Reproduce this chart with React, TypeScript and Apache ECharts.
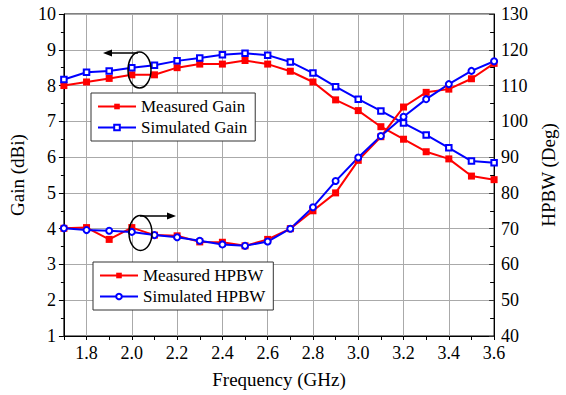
import React, { useEffect, useRef } from "react";
import * as echarts from "echarts";

const frequencies = ["1.7", "1.8", "1.9", "2.0", "2.1", "2.2", "2.3", "2.4", "2.5", "2.6", "2.7", "2.8", "2.9", "3.0", "3.1", "3.2", "3.3", "3.4", "3.5", "3.6"];
const measuredGain = [8.0, 8.1, 8.2, 8.3, 8.3, 8.5, 8.6, 8.6, 8.7, 8.6, 8.4, 8.1, 7.6, 7.3, 6.85, 6.5, 6.15, 5.95, 5.47, 5.37];
const simulatedGain = [8.17, 8.37, 8.41, 8.5, 8.57, 8.69, 8.77, 8.86, 8.9, 8.85, 8.66, 8.35, 7.97, 7.62, 7.29, 6.95, 6.62, 6.26, 5.89, 5.84];
const measuredHPBW = [70.1, 70.3, 67.0, 70.3, 68.2, 68.0, 66.3, 66.2, 65.2, 67.0, 70.0, 75.0, 80.0, 89.1, 95.7, 104.0, 108.1, 109.0, 111.9, 116.2];
const simulatedHPBW = [70.1, 69.6, 69.4, 69.1, 68.2, 67.6, 66.6, 65.6, 65.2, 66.4, 70.0, 76.0, 83.3, 89.9, 95.9, 101.3, 106.2, 110.4, 114.1, 116.8];

const FONT = "'Liberation Serif', 'Times New Roman', serif";
const RED = "#ff0000";
const BLUE = "#0000ff";

export default function App() {
  const ref = useRef<HTMLDivElement>(null);
  useEffect(() => {
    if (!ref.current) return;
    const chart = echarts.init(ref.current, null, { renderer: "svg" });
    const major = (i: number) => i % 2 === 1;
    const legendBase = {
      orient: "vertical" as const,
      selectedMode: false,
      backgroundColor: "#fff",
      borderColor: "#333",
      borderWidth: 1,
      padding: [5, 8, 5, 6],
      itemGap: 4,
      itemWidth: 38,
      itemHeight: 7,
      textStyle: { fontFamily: FONT, fontSize: 17, color: "#000" },
    };
    chart.setOption({
      animation: false,
      backgroundColor: "#fff",
      textStyle: { fontFamily: FONT },
      grid: { left: 62, right: 67, top: 14, bottom: 59, show: true, borderColor: "#000", borderWidth: 1, backgroundColor: "transparent" },
      xAxis: {
        type: "category",
        data: frequencies,
        boundaryGap: false,
        name: "Frequency (GHz)",
        nameLocation: "middle",
        nameGap: 34,
        nameTextStyle: { fontFamily: FONT, fontSize: 19, color: "#000" },
        axisLine: { lineStyle: { color: "#000", width: 1 } },
        axisTick: { show: true, interval: 0, length: 4, inside: false, lineStyle: { color: "#000" } },
        axisLabel: { interval: major, margin: 8, fontFamily: FONT, fontSize: 18, color: "#000" },
        splitLine: { show: true, interval: major, lineStyle: { color: "#aaa", width: 1 } },
      },
      yAxis: [
        {
          type: "value",
          min: 1,
          max: 10,
          interval: 1,
          name: "Gain (dBi)",
          nameLocation: "middle",
          nameGap: 27,
          nameRotate: 90,
          nameTextStyle: { fontFamily: FONT, fontSize: 19, color: "#000" },
          axisLine: { show: true, lineStyle: { color: "#000", width: 1 } },
          axisTick: { show: true, length: 5, inside: false, lineStyle: { color: "#000" } },
          minorTick: { show: true, splitNumber: 2, length: 3, lineStyle: { color: "#000" } },
          axisLabel: { margin: 8, fontFamily: FONT, fontSize: 18, color: "#000" },
          splitLine: { show: true, lineStyle: { color: "#aaa", width: 1 } },
        },
        {
          type: "value",
          min: 40,
          max: 130,
          interval: 10,
          position: "right",
          name: "HPBW (Deg)",
          nameLocation: "middle",
          nameGap: 36,
          nameRotate: 90,
          nameTextStyle: { fontFamily: FONT, fontSize: 19, color: "#000" },
          axisLine: { show: true, lineStyle: { color: "#000", width: 1 } },
          axisTick: { show: true, length: 5, inside: true, lineStyle: { color: "#333" } },
          minorTick: { show: true, splitNumber: 2, length: 4, lineStyle: { color: "#000" } },
          axisLabel: { margin: 7, fontFamily: FONT, fontSize: 18, color: "#000" },
          splitLine: { show: false },
        },
      ],
      legend: [
        { ...legendBase, left: 91, top: 93, data: ["Measured Gain", "Simulated Gain"] },
        { ...legendBase, left: 93, top: 262, data: ["Measured HPBW", "Simulated HPBW"] },
      ],
      series: [
        {
          name: "Measured Gain", type: "line", yAxisIndex: 0, data: measuredGain,
          symbol: "rect", symbolSize: 7, color: RED,
          lineStyle: { color: RED, width: 2 }, itemStyle: { color: RED },
        },
        {
          name: "Simulated Gain", type: "line", yAxisIndex: 0, data: simulatedGain,
          symbol: "emptyRect", symbolSize: 5.5, color: BLUE,
          lineStyle: { color: BLUE, width: 2 }, itemStyle: { color: BLUE, borderColor: BLUE, borderWidth: 1.3 },
        },
        {
          name: "Measured HPBW", type: "line", yAxisIndex: 1, data: measuredHPBW,
          symbol: "rect", symbolSize: 7, color: RED,
          lineStyle: { color: RED, width: 2 }, itemStyle: { color: RED },
        },
        {
          name: "Simulated HPBW", type: "line", yAxisIndex: 1, data: simulatedHPBW,
          symbol: "emptyCircle", symbolSize: 6, color: BLUE,
          lineStyle: { color: BLUE, width: 2 }, itemStyle: { color: BLUE, borderColor: BLUE, borderWidth: 1.3 },
        },
      ],
      graphic: [
        { type: "ellipse", shape: { cx: 139.5, cy: 70, rx: 11.5, ry: 18 }, style: { fill: "none", stroke: "#000", lineWidth: 1.5 }, z: 100 },
        { type: "line", shape: { x1: 138, y1: 53, x2: 110, y2: 53 }, style: { stroke: "#000", lineWidth: 1.5 }, z: 100 },
        { type: "polygon", shape: { points: [[103, 53], [112, 49.5], [112, 56.5]] }, style: { fill: "#000" }, z: 100 },
        { type: "ellipse", shape: { cx: 140.5, cy: 233, rx: 11.5, ry: 17.5 }, style: { fill: "none", stroke: "#000", lineWidth: 1.5 }, z: 100 },
        { type: "line", shape: { x1: 140, y1: 216, x2: 168, y2: 216 }, style: { stroke: "#000", lineWidth: 1.5 }, z: 100 },
        { type: "polygon", shape: { points: [[176, 216], [167, 212.5], [167, 219.5]] }, style: { fill: "#000" }, z: 100 },
      ],
    });
    return () => chart.dispose();
  }, []);
  return <div ref={ref} style={{ position: "fixed", left: 0, top: 0, width: 566, height: 395 }} />;
}
